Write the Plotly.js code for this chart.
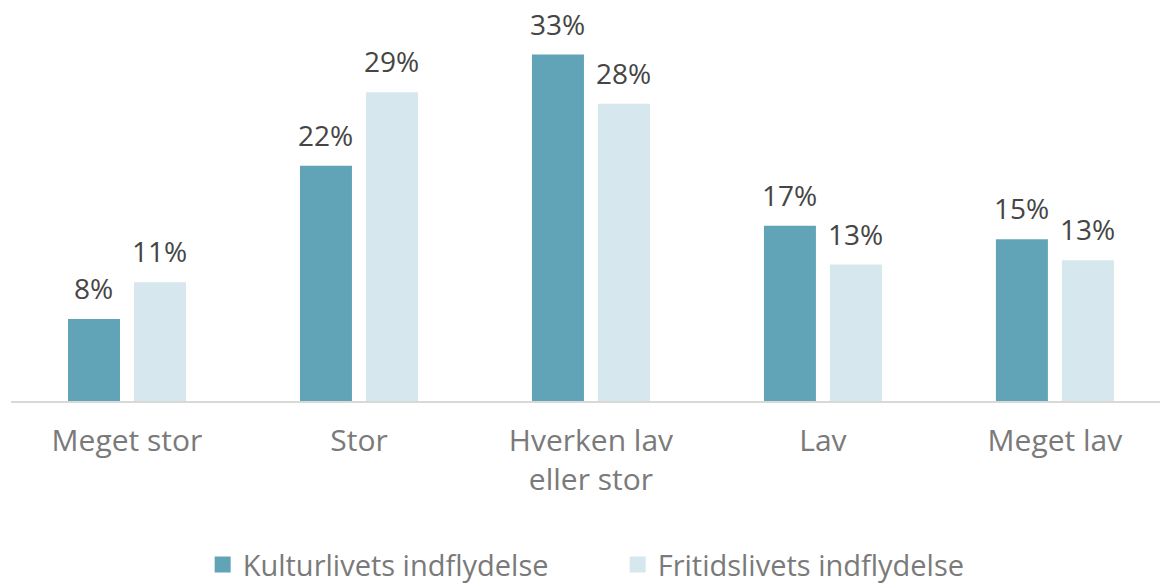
<!DOCTYPE html>
<html>
<head>
<meta charset="utf-8">
<script src="https://cdn.plot.ly/plotly-3.0.1.min.js"></script>
<style>html,body{margin:0;padding:0;background:#fff;}#chart{width:1160px;height:585px;}</style>
</head>
<body>
<div id="chart"></div>
<script>
const categories = ["Meget stor", "Stor", "Hverken lav<br>eller stor", "Lav", "Meget lav"];
const seriesNames = ["Kulturlivets indflydelse", "Fritidslivets indflydelse"];
const kultur = [7.8, 22.4, 33.0, 16.7, 15.4];
const fritid = [11.3, 29.4, 28.3, 13.0, 13.4];
const kulturLabels = ["8%", "22%", "33%", "17%", "15%"];
const fritidLabels = ["11%", "29%", "28%", "13%", "13%"];
const colors = ["#62a4b7", "#d6e8ed"];

const FONT = "Open Sans, Lato, sans-serif";

const traces = [
  {type: "bar", name: seriesNames[0], x: categories, y: kultur, marker: {color: colors[0]}, showlegend: false, hoverinfo: "skip"},
  {type: "bar", name: seriesNames[1], x: categories, y: fritid, marker: {color: colors[1]}, showlegend: false, hoverinfo: "skip"},
  {type: "scatter", mode: "markers", name: seriesNames[0], x: [categories[0]], y: [null], marker: {symbol: "square", size: 18, color: colors[0], line: {width: 0}}, showlegend: true},
  {type: "scatter", mode: "markers", name: seriesNames[1], x: [categories[0]], y: [null], marker: {symbol: "square", size: 18, color: colors[1], line: {width: 0}}, showlegend: true}
];

const annotations = [];
const OFF = 33;
categories.forEach((c, i) => {
  annotations.push({x: c, y: kultur[i], xref: "x", yref: "y", text: kulturLabels[i], showarrow: false, xshift: -OFF, yanchor: "bottom", yshift: 10, font: {family: FONT, size: 28, color: "#454545"}});
  annotations.push({x: c, y: fritid[i], xref: "x", yref: "y", text: fritidLabels[i], showarrow: false, xshift: OFF, yanchor: "bottom", yshift: 10, font: {family: FONT, size: 28, color: "#454545"}});
});

const layout = {
  width: 1160, height: 585,
  margin: {l: 11, r: 0, t: 0, b: 184, pad: 0, autoexpand: false},
  paper_bgcolor: "#fff", plot_bgcolor: "#fff",
  barmode: "group", bargap: 0.431, bargroupgap: 0.212,
  xaxis: {
    type: "category", range: [-0.5, 4.453], showgrid: false, zeroline: false, automargin: false,
    showline: true, linecolor: "#d9d9d9", linewidth: 2, ticks: "", ticklabelstandoff: 12,
    tickfont: {family: FONT, size: 30, color: "#7a7a7a"}, fixedrange: true
  },
  yaxis: {range: [0, 38.19], visible: false, showgrid: false, zeroline: false, fixedrange: true, automargin: false},
  showlegend: true,
  legend: {orientation: "h", x: 0.528, xanchor: "center", y: -0.408, yanchor: "middle",
    entrywidth: 370, entrywidthmode: "pixels",
    font: {family: FONT, size: 29, color: "#7a7a7a"}, itemclick: false, itemdoubleclick: false},
  annotations: annotations
};

Plotly.newPlot("chart", traces, layout, {displayModeBar: false, staticPlot: true});
</script>
</body>
</html>
